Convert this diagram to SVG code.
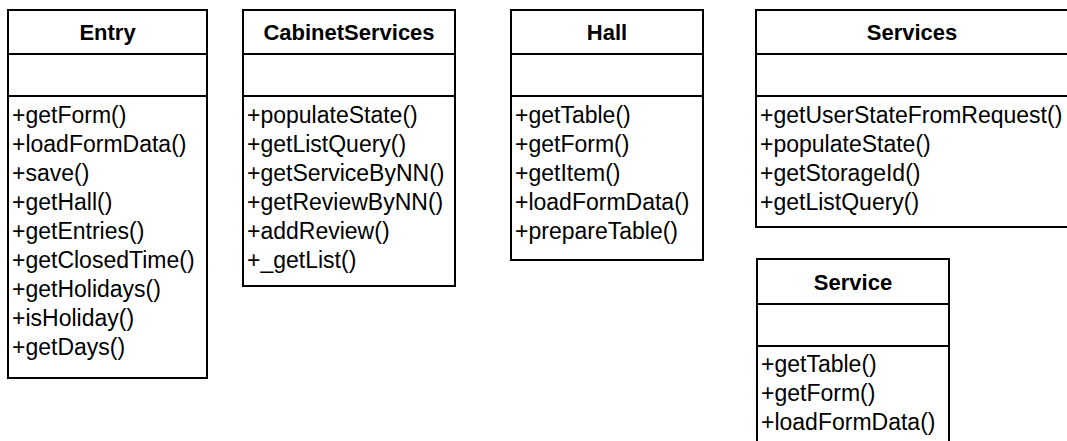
<svg xmlns="http://www.w3.org/2000/svg" width="1067" height="441" viewBox="0 0 1067 441">
<style>
.box{fill:#fff;stroke:#000;stroke-width:2}
.sep{stroke:#000;stroke-width:2}
.title{font-family:"Liberation Sans",Arial,sans-serif;font-size:22px;font-weight:bold;text-anchor:middle;fill:#000}
.m{font-family:"Liberation Sans",Arial,sans-serif;font-size:23px;fill:#000}
</style>
<rect width="1067" height="441" fill="#fff"/>
<g id="Entry">
<rect class="box" x="8" y="10" width="199" height="368"/>
<line class="sep" x1="8" y1="54" x2="207" y2="54"/>
<line class="sep" x1="8" y1="96" x2="207" y2="96"/>
<text class="title" x="107.5" y="40">Entry</text>
<text class="m" x="12" y="123">+getForm()</text>
<text class="m" x="12" y="152">+loadFormData()</text>
<text class="m" x="12" y="181">+save()</text>
<text class="m" x="12" y="210">+getHall()</text>
<text class="m" x="12" y="239">+getEntries()</text>
<text class="m" x="12" y="268">+getClosedTime()</text>
<text class="m" x="12" y="297">+getHolidays()</text>
<text class="m" x="12" y="326">+isHoliday()</text>
<text class="m" x="12" y="355">+getDays()</text>
</g>
<g id="CabinetServices">
<rect class="box" x="243" y="10" width="212" height="276"/>
<line class="sep" x1="243" y1="54" x2="455" y2="54"/>
<line class="sep" x1="243" y1="96" x2="455" y2="96"/>
<text class="title" x="349" y="40">CabinetServices</text>
<text class="m" x="247" y="123">+populateState()</text>
<text class="m" x="247" y="152">+getListQuery()</text>
<text class="m" x="247" y="181">+getServiceByNN()</text>
<text class="m" x="247" y="210">+getReviewByNN()</text>
<text class="m" x="247" y="239">+addReview()</text>
<text class="m" x="247" y="268">+_getList()</text>
</g>
<g id="Hall">
<rect class="box" x="511" y="10" width="192" height="250"/>
<line class="sep" x1="511" y1="54" x2="703" y2="54"/>
<line class="sep" x1="511" y1="96" x2="703" y2="96"/>
<text class="title" x="607" y="40">Hall</text>
<text class="m" x="515" y="123">+getTable()</text>
<text class="m" x="515" y="152">+getForm()</text>
<text class="m" x="515" y="181">+getItem()</text>
<text class="m" x="515" y="210">+loadFormData()</text>
<text class="m" x="515" y="239">+prepareTable()</text>
</g>
<g id="Services">
<rect class="box" x="756" y="10" width="320" height="217"/>
<line class="sep" x1="756" y1="54" x2="1076" y2="54"/>
<line class="sep" x1="756" y1="96" x2="1076" y2="96"/>
<text class="title" x="912" y="40">Services</text>
<text class="m" x="760" y="123">+getUserStateFromRequest()</text>
<text class="m" x="760" y="152">+populateState()</text>
<text class="m" x="760" y="181">+getStorageId()</text>
<text class="m" x="760" y="210">+getListQuery()</text>
</g>
<g id="Service">
<rect class="box" x="757" y="259" width="192" height="200"/>
<line class="sep" x1="757" y1="304" x2="949" y2="304"/>
<line class="sep" x1="757" y1="346" x2="949" y2="346"/>
<text class="title" x="853" y="290">Service</text>
<text class="m" x="761" y="372">+getTable()</text>
<text class="m" x="761" y="401">+getForm()</text>
<text class="m" x="761" y="430">+loadFormData()</text>
</g>
<g id="connectors"></g>
</svg>
